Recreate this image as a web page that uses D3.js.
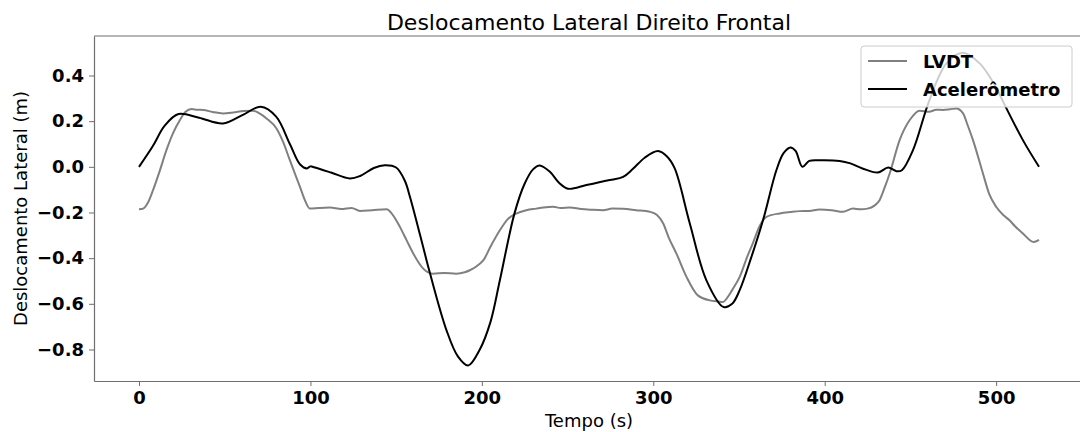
<!DOCTYPE html>
<html>
<head>
<meta charset="utf-8">
<script src="https://cdn.jsdelivr.net/npm/d3@7"></script>
<style>
  body { margin: 0; background: #fff; }
  text { font-family: "DejaVu Sans", sans-serif; }
</style>
</head>
<body>
<div id="chart"></div>
<script>
// Tick values
const xTicks = [0, 100, 200, 300, 400, 500];
const yTicks = [-0.8, -0.6, -0.4, -0.2, 0.0, 0.2, 0.4];

// LVDT series (time s, displacement m)
const lvdtTime = [0, 2.5, 5, 8.3, 12, 16, 20, 23.9, 27, 30.7, 34, 37.5, 43, 49, 55, 60.8, 66.6, 70, 74.4, 80.2,
  84, 88, 93.9, 97, 99.7, 105, 111.4, 118, 124, 128.9, 136, 144.4, 148, 152.2, 156, 160, 165.8, 171.6, 178, 185,
  190, 193, 198.8, 200.8, 205, 210.5, 215, 220, 226, 231.7, 236, 241.6, 246, 251.3, 258, 264, 270.7, 276, 282.4, 290,
  298, 302, 305.8, 309, 313.5, 319.4, 326, 333, 338, 340.7, 343, 346, 350.4, 355, 358, 362, 366, 373.8, 380, 385.4,
  391, 397, 404, 410.7, 416.5, 421, 425, 429, 432, 435, 437.9, 443.7, 449.6, 455.4, 461, 465, 469, 473, 476.8, 480.7,
  483.5, 486.5, 492.3, 496, 500, 504, 507.8, 511, 515.6, 521.8, 525];
const lvdtValues = [-0.186, -0.183, -0.16, -0.10, -0.02, 0.073, 0.15, 0.205, 0.24, 0.253, 0.25, 0.249, 0.24, 0.234, 0.238, 0.244, 0.246, 0.235, 0.212, 0.168,
  0.11, 0.029, -0.088, -0.15, -0.183, -0.18, -0.178, -0.185, -0.18, -0.193, -0.19, -0.186, -0.21, -0.263, -0.32, -0.38, -0.446, -0.468, -0.465, -0.468,
  -0.462, -0.453, -0.424, -0.41, -0.35, -0.278, -0.23, -0.205, -0.19, -0.183, -0.178, -0.175, -0.18, -0.178, -0.185, -0.188, -0.19, -0.183, -0.184, -0.19,
  -0.197, -0.21, -0.248, -0.31, -0.38, -0.482, -0.563, -0.585, -0.59, -0.592, -0.575, -0.54, -0.482, -0.39, -0.336, -0.26, -0.219, -0.204, -0.198, -0.194,
  -0.193, -0.187, -0.19, -0.197, -0.183, -0.186, -0.183, -0.17, -0.146, -0.09, -0.029, 0.117, 0.205, 0.246, 0.241, 0.25, 0.249, 0.252, 0.256, 0.234,
  0.18, 0.117, -0.029, -0.12, -0.175, -0.21, -0.234, -0.26, -0.292, -0.329, -0.32];

// Accelerometer series
const accTime = [0, 8, 15, 23, 35, 49, 60, 71, 80, 88, 94, 98, 100, 102, 112, 123, 129, 137, 143.4, 150,
  155, 158, 164, 169.7, 179.4, 186, 192, 198.8, 205, 210.5, 219, 225, 230, 233.8, 239.7, 245, 250.3, 261, 274.6, 282.4,
  288, 295, 302.8, 308, 312.5, 321.3, 331, 341, 346, 350.4, 357, 364, 371.8, 376, 380, 383, 387, 391, 397, 408.7,
  415, 422, 431, 437, 441.8, 445, 451.5, 461, 471, 480.7, 490.4, 499, 506, 515.6, 525];
const accValues = [0, 0.09, 0.18, 0.231, 0.215, 0.19, 0.225, 0.263, 0.22, 0.10, 0.01, -0.007, 0.002, -0.002, -0.025, -0.051, -0.04, -0.005, 0.007, -0.003,
  -0.06, -0.13, -0.30, -0.465, -0.716, -0.83, -0.87, -0.8, -0.68, -0.497, -0.205, -0.073, -0.01, 0.006, -0.022, -0.07, -0.096, -0.08, -0.058, -0.044,
  -0.01, 0.04, 0.069, 0.045, -0.007, -0.248, -0.497, -0.614, -0.6, -0.54, -0.4, -0.234, -0.015, 0.06, 0.085, 0.07, 0.0, 0.026, 0.029, 0.026,
  0.015, -0.007, -0.025, -0.003, -0.019, -0.015, 0.073, 0.29, 0.453, 0.5, 0.453, 0.36, 0.256, 0.117, 0.0];

const seriesNames = ["LVDT", "Acelerômetro"];
const seriesColors = ["#808080", "#000000"];

// Figure layout
const W = 1080, H = 432;
const plot = { left: 94, right: 1084, top: 36, bottom: 381 };

const svg = d3.select("#chart")
  .append("svg")
  .attr("width", W)
  .attr("height", H);

const xScale = d3.scaleLinear()
  .domain([-26.25, 551.25])
  .range([plot.left, plot.right]);

const yScale = d3.scaleLinear()
  .domain([-0.938, 0.573])
  .range([plot.bottom, plot.top]);

svg.append("clipPath")
  .attr("id", "clip")
  .append("rect")
  .attr("x", plot.left)
  .attr("y", plot.top)
  .attr("width", plot.right - plot.left)
  .attr("height", plot.bottom - plot.top);

const line = d3.line()
  .x(function(d) { return xScale(d[0]); })
  .y(function(d) { return yScale(d[1]); });

const lvdtData = lvdtTime.map(function(t, i) { return [t, lvdtValues[i]]; });
const accData = accTime.map(function(t, i) { return [t, accValues[i]]; });

const lines = svg.append("g").attr("clip-path", "url(#clip)");

lines.append("path")
  .datum(lvdtData)
  .attr("fill", "none")
  .attr("stroke", seriesColors[0])
  .attr("stroke-width", 2)
  .attr("stroke-linejoin", "round")
  .attr("d", line.curve(d3.curveMonotoneX));

lines.append("path")
  .datum(accData)
  .attr("fill", "none")
  .attr("stroke", seriesColors[1])
  .attr("stroke-width", 2)
  .attr("stroke-linejoin", "round")
  .attr("d", line.curve(d3.curveCatmullRom.alpha(0.5)));

// Axes
const xAxis = d3.axisBottom(xScale)
  .tickValues(xTicks)
  .tickFormat(d3.format("d"))
  .tickSize(5)
  .tickSizeOuter(0)
  .tickPadding(5);

const yAxis = d3.axisLeft(yScale)
  .tickValues(yTicks)
  .tickFormat(d3.format(".1f"))
  .tickSize(5)
  .tickSizeOuter(0)
  .tickPadding(5);

const gx = svg.append("g")
  .attr("transform", "translate(0," + plot.bottom + ")")
  .call(xAxis);

const gy = svg.append("g")
  .attr("transform", "translate(" + plot.left + ",0)")
  .call(yAxis);

[gx, gy].forEach(function(g) {
  g.select(".domain").attr("stroke", "#6e6e6e").attr("stroke-width", 1.2);
  g.selectAll(".tick line").attr("stroke", "#6e6e6e").attr("stroke-width", 1);
  g.selectAll(".tick text")
    .attr("fill", "#000")
    .style("font-family", "'DejaVu Sans', sans-serif")
    .style("font-size", "18px")
    .style("font-weight", "bold");
});

// Top spine
svg.append("line")
  .attr("x1", plot.left)
  .attr("x2", plot.right)
  .attr("y1", plot.top)
  .attr("y2", plot.top)
  .attr("stroke", "#6e6e6e")
  .attr("stroke-width", 1.2);

// Title and axis labels
svg.append("text")
  .attr("x", (plot.left + plot.right) / 2)
  .attr("y", 30)
  .attr("text-anchor", "middle")
  .style("font-size", "22px")
  .text("Deslocamento Lateral Direito Frontal");

svg.append("text")
  .attr("x", (plot.left + plot.right) / 2)
  .attr("y", 427)
  .attr("text-anchor", "middle")
  .style("font-size", "18px")
  .text("Tempo (s)");

svg.append("text")
  .attr("transform", "translate(27," + ((plot.top + plot.bottom) / 2) + ") rotate(-90)")
  .attr("text-anchor", "middle")
  .style("font-size", "18px")
  .text("Deslocamento Lateral (m)");

// Legend
const legend = svg.append("g");

legend.append("rect")
  .attr("x", 861)
  .attr("y", 46)
  .attr("width", 211)
  .attr("height", 61)
  .attr("rx", 3)
  .attr("fill", "#fff")
  .attr("fill-opacity", 0.8)
  .attr("stroke", "#cccccc");

seriesNames.forEach(function(name, i) {
  const yy = 61 + i * 28;
  legend.append("line")
    .attr("x1", 868)
    .attr("x2", 907)
    .attr("y1", yy)
    .attr("y2", yy)
    .attr("stroke", seriesColors[i])
    .attr("stroke-width", 2);
  legend.append("text")
    .attr("x", 923)
    .attr("y", yy + 6.5)
    .style("font-size", "18px")
    .style("font-weight", "bold")
    .text(name);
});
</script>
</body>
</html>
